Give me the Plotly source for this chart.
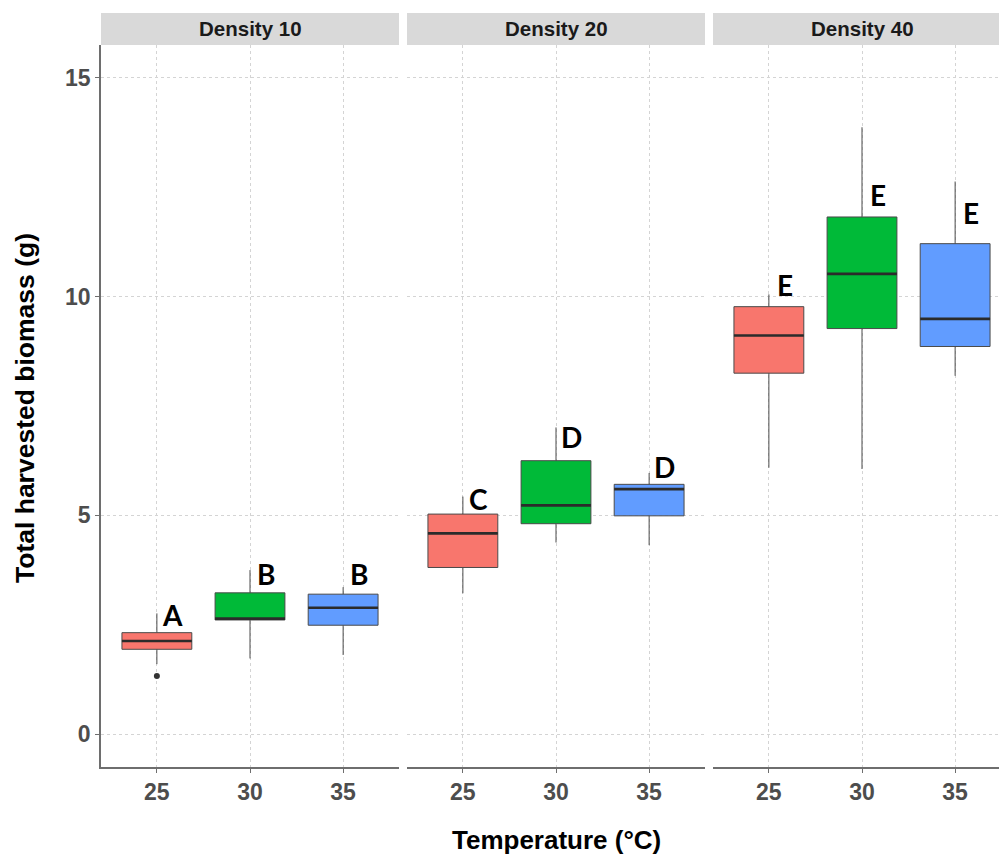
import plotly.graph_objects as go

# ---------------- data ----------------
densities = ["Density 10", "Density 20", "Density 40"]
temperatures = ["25", "30", "35"]
colors = ["#F8766D", "#00BA38", "#619CFF"]

# per panel, per temperature
q1 = [[1.94, 2.61, 2.49], [3.81, 4.81, 4.99], [8.25, 9.27, 8.86]]
median = [[2.13, 2.64, 2.89], [4.59, 5.23, 5.60], [9.11, 10.52, 9.49]]
q3 = [[2.32, 3.23, 3.20], [5.03, 6.25, 5.71], [9.77, 11.82, 11.21]]
lower = [[1.60, 1.73, 1.81], [3.22, 4.38, 4.32], [6.09, 6.06, 8.19]]
upper = [[2.76, 3.75, 3.36], [5.43, 7.01, 5.97], [10.05, 13.87, 12.63]]

# outliers: (panel index, temperature index, value)
outliers = [(0, 0, 1.33)]

letters = [["A", "B", "B"], ["C", "D", "D"], ["E", "E", "E"]]
letter_y = [[2.72, 3.66, 3.66], [5.38, 6.80, 6.10], [10.27, 12.33, 11.92]]

y_ticks = [0, 5, 10, 15]

# ---------------- layout geometry ----------------
W, H = 999, 854
L, R, T, B = 101, 0, 45, 87
plot_w = W - L - R
plot_h = H - T - B
panel_px = 298
gap_px = 8
px_per_unit = panel_px / 3.2

domains = []
xranges = []
for i in range(3):
    x0 = i * (panel_px + gap_px)
    x1 = min(x0 + panel_px, plot_w)
    domains.append([x0 / plot_w, x1 / plot_w])
    xranges.append([0.4, 0.4 + (x1 - x0) / px_per_unit])

box_w = 0.75
axis_grey = "#6E6E6E"
grid_col = "#D4D4D4"
box_line = "#4A4A4A"

fig = go.Figure()

for p in range(3):
    xa = "x" if p == 0 else f"x{p+1}"
    for t in range(3):
        fig.add_trace(go.Box(
            x=[t + 1], q1=[q1[p][t]], median=[median[p][t]], q3=[q3[p][t]],
            lowerfence=[lower[p][t]], upperfence=[upper[p][t]],
            fillcolor=colors[t], line=dict(color=box_line, width=1),
            whiskerwidth=0, width=box_w, boxpoints=False,
            xaxis=xa, yaxis="y", showlegend=False, hoverinfo="skip",
        ))
    # thick median lines
    mx, my = [], []
    for t in range(3):
        mx += [t + 1 - box_w / 2, t + 1 + box_w / 2, None]
        my += [median[p][t], median[p][t], None]
    fig.add_trace(go.Scatter(x=mx, y=my, mode="lines",
                             line=dict(color="#2B2B2B", width=2.6),
                             xaxis=xa, yaxis="y", showlegend=False, hoverinfo="skip"))

# outliers
for (p, t, v) in outliers:
    xa = "x" if p == 0 else f"x{p+1}"
    fig.add_trace(go.Scatter(x=[t + 1], y=[v], mode="markers",
                             marker=dict(color="#333333", size=6),
                             xaxis=xa, yaxis="y", showlegend=False, hoverinfo="skip"))

annotations = []
shapes = []
letter_dx = 0.17
for p in range(3):
    xr = "x" if p == 0 else f"x{p+1}"
    for t in range(3):
        annotations.append(dict(
            x=t + 1 + letter_dx, y=letter_y[p][t], xref=xr, yref="y",
            text=letters[p][t], showarrow=False,
            font=dict(family="Lato", size=28, color="#000000", weight="bold"),
            xanchor="center", yanchor="middle"))
    # strip
    strip_top = (H - B - 13) / plot_h
    shapes.append(dict(type="rect", xref="paper", yref="paper",
                       x0=domains[p][0], x1=domains[p][1], y0=1.0, y1=strip_top,
                       fillcolor="#D9D9D9", line=dict(width=0), layer="below"))
    cx = (p * (panel_px + gap_px) + panel_px / 2) / plot_w
    annotations.append(dict(x=cx, y=(1.0 + strip_top) / 2, xref="paper", yref="paper",
                            text="<b>" + densities[p] + "</b>", showarrow=False,
                            font=dict(family="Liberation Sans", size=20.5, color="#1A1A1A"),
                            xanchor="center", yanchor="middle"))

# axis titles
annotations.append(dict(x=(556 - L) / plot_w, y=(H - B - 840) / plot_h, xref="paper", yref="paper",
                        text="<b>Temperature (°C)</b>", showarrow=False,
                        font=dict(family="Liberation Sans", size=26, color="#000000"),
                        xanchor="center", yanchor="middle"))
annotations.append(dict(x=(25 - L) / plot_w, y=(H - B - 408) / plot_h, xref="paper", yref="paper",
                        text="<b>Total harvested biomass (g)</b>", showarrow=False, textangle=-90,
                        font=dict(family="Liberation Sans", size=26.5, color="#000000"),
                        xanchor="center", yanchor="middle"))

layout = dict(
    width=W, height=H,
    margin=dict(l=L, r=R, t=T, b=B, pad=0),
    paper_bgcolor="white", plot_bgcolor="white",
    showlegend=False,
    annotations=annotations, shapes=shapes,
    yaxis=dict(range=[-0.75, 15.75], tickvals=y_ticks, ticktext=[str(v) for v in y_ticks],
               showgrid=True, gridcolor=grid_col, griddash="dot", gridwidth=1,
               zeroline=False, showline=True, linecolor=axis_grey, linewidth=1.5,
               ticks="outside", ticklen=4, tickcolor=axis_grey, tickwidth=1.2,
               tickfont=dict(family="Liberation Sans", size=23, color="#4D4D4D", weight="bold"),
               anchor="x", domain=[0, 1]),
)
for p in range(3):
    key = "xaxis" if p == 0 else f"xaxis{p+1}"
    layout[key] = dict(
        domain=domains[p], range=xranges[p], anchor="y",
        tickvals=[1, 2, 3], ticktext=temperatures,
        showgrid=True, gridcolor=grid_col, griddash="dot", gridwidth=1,
        zeroline=False, showline=True, linecolor=axis_grey, linewidth=1.5,
        ticks="outside", ticklen=4, tickcolor=axis_grey, tickwidth=1.2,
        tickfont=dict(family="Liberation Sans", size=23, color="#4D4D4D", weight="bold"),
    )

fig.update_layout(**layout)
fig.write_html("out.html")
